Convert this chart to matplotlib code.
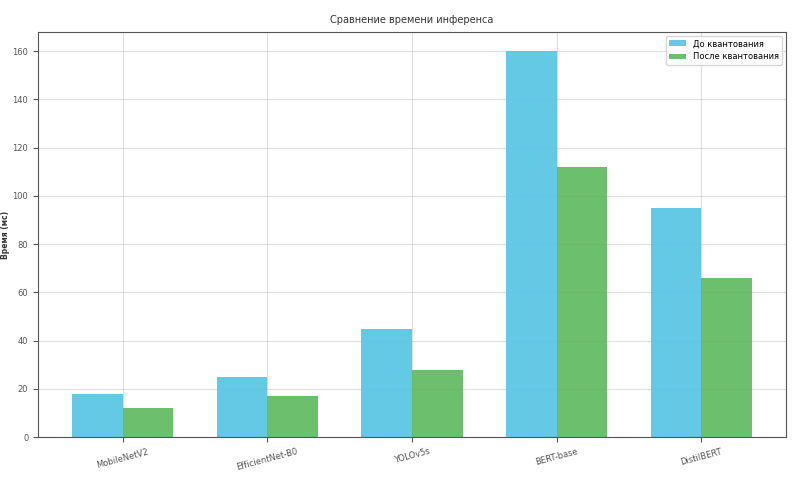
import matplotlib
matplotlib.use("Agg")
import matplotlib.pyplot as plt
import numpy as np

models = ["MobileNetV2", "EfficientNet-B0", "YOLOv5s", "BERT-base", "DistilBERT"]
before_q = [18, 25, 45, 160, 95]
after_q = [12, 17, 28, 112, 66]

x = np.arange(len(models))
width = 0.35

fig, ax = plt.subplots(figsize=(8, 4.82), dpi=100)
fig.subplots_adjust(left=0.0475, right=0.9825, top=0.934, bottom=0.093)

ax.bar(x - width / 2, before_q, width, label="До квантования", color="#5bc6e4", alpha=0.95)
ax.bar(x + width / 2, after_q, width, label="После квантования", color="#5cb85c", alpha=0.9)

ax.set_title("Сравнение времени инференса", fontsize=7, color="#333333")
ax.set_ylabel("Время (мс)", fontsize=5.5, fontweight="bold", color="#333333")
ax.yaxis.set_label_coords(-0.037, 0.5)
ax.set_xticks(x)
ax.set_xticklabels(models, rotation=15, fontsize=6, color="#333333")
ax.tick_params(axis="y", labelsize=6, labelcolor="#333333")
ax.tick_params(colors="#555555")
for s in ax.spines.values():
    s.set_color("#555555")
ax.grid(True, alpha=0.4)
ax.set_axisbelow(True)
ax.legend(loc="upper right", fontsize=6)

fig.savefig("out.png", dpi=100)
